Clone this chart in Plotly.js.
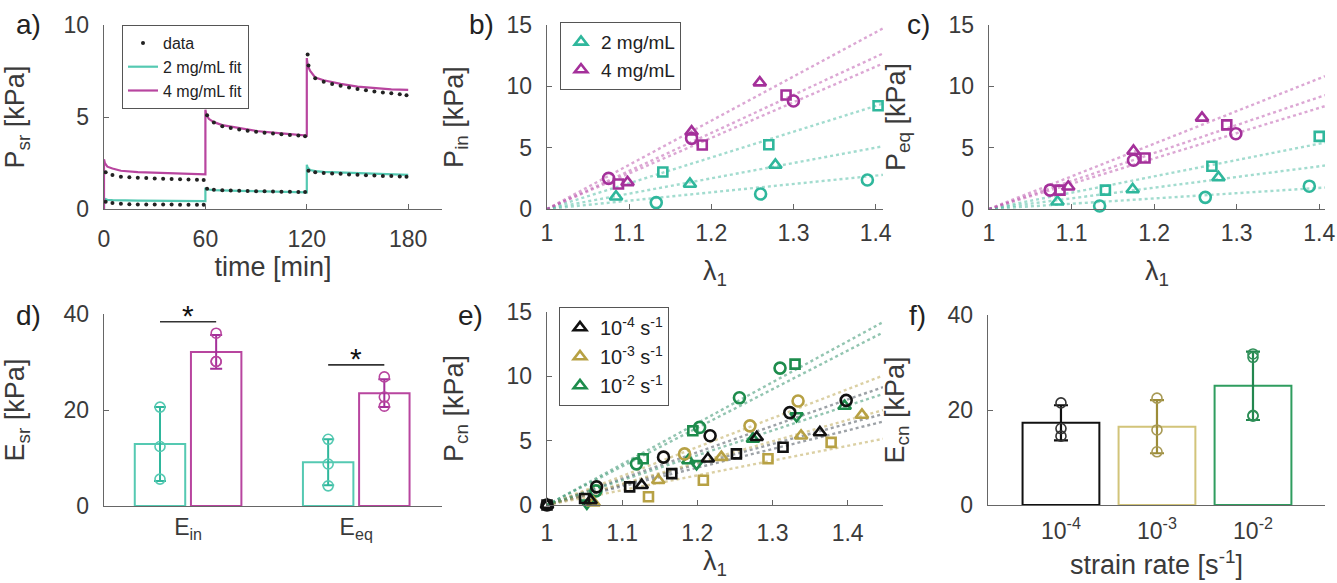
<!DOCTYPE html>
<html><head><meta charset="utf-8">
<script src="https://cdn.plot.ly/plotly-3.0.1.min.js"></script>
<style>html,body{margin:0;padding:0;background:#fff}#chart{width:1337px;height:583px}</style>
</head><body><div id="chart"></div>
<script>
// ---------- DATA ----------
// a) stress relaxation
const dataT4 = [1,5,10,15,20,25,30,35,40,45,50,55,59,61,65,70,75,80,85,90,95,100,105,110,115,119,120.5,121,125,130,135,140,145,150,155,160,165,170,175,179];
const dataP4 = [2.0,1.85,1.75,1.72,1.7,1.68,1.66,1.65,1.63,1.62,1.6,1.59,1.58,5.1,4.7,4.5,4.4,4.32,4.25,4.2,4.15,4.1,4.06,4.02,3.99,3.96,8.4,7.8,7.1,6.92,6.8,6.7,6.6,6.52,6.45,6.38,6.33,6.29,6.23,6.18];
const dataT2 = [1,5,10,15,20,25,30,35,40,45,50,55,59,61,65,70,75,80,85,90,95,100,105,110,115,119,121,125,130,135,140,145,150,155,160,165,170,175,179];
const dataP2 = [0.4,0.32,0.28,0.26,0.25,0.25,0.24,0.24,0.24,0.23,0.23,0.23,0.23,1.1,1.04,1.02,1.0,0.99,0.98,0.97,0.96,0.95,0.94,0.94,0.93,0.92,2.08,2.0,1.96,1.93,1.91,1.88,1.86,1.84,1.82,1.8,1.79,1.77,1.75];
const fitT4 = [0,0,0.5,2,5,10,20,30,40,50,60,60,60.5,62,65,70,80,90,100,110,120,120,120.5,122,125,130,140,150,160,170,180];
const fitP4 = [0,2.7,2.5,2.3,2.2,2.08,2.0,1.96,1.93,1.9,1.88,5.4,5.15,4.9,4.72,4.56,4.38,4.24,4.15,4.06,3.99,8.2,7.8,7.5,7.15,7.0,6.8,6.65,6.56,6.5,6.47];
const fitT2 = [0,0,0.5,2,5,10,20,40,60,60,60.5,62,65,80,100,120,120,120.5,122,125,130,150,180];
const fitP2 = [0,0.6,0.55,0.5,0.48,0.46,0.45,0.44,0.43,1.15,1.1,1.06,1.03,0.99,0.95,0.91,2.4,2.25,2.12,2.06,2.02,1.94,1.85];

// b) instantaneous
const inLam4Tri=[1.098,1.176,1.259], inP4Tri=[2.17,6.3,10.3];
const inLam4Sq=[1.087,1.189,1.291],  inP4Sq=[2.04,5.22,9.29];
const inLam4Ci=[1.075,1.176,1.300],  inP4Ci=[2.5,5.76,8.8];
const inLam2Tri=[1.084,1.174,1.278], inP2Tri=[1.0,2.04,3.59];
const inLam2Sq=[1.141,1.270,1.403],  inP2Sq=[3.02,5.24,8.42];
const inLam2Ci=[1.133,1.260,1.390],  inP2Ci=[0.52,1.22,2.36];
const inSlope4=[36,31,29], inSlope2=[12.5,21,6.8];   // tri, sq, ci

// c) equilibrium
const eqLam4Tri=[1.096,1.175,1.258], eqP4Tri=[1.81,4.73,7.43];
const eqLam4Sq=[1.086,1.189,1.288],  eqP4Sq=[1.54,4.16,6.86];
const eqLam4Ci=[1.074,1.175,1.299],  eqP4Ci=[1.54,3.97,6.14];
const eqLam2Tri=[1.083,1.174,1.278], eqP2Tri=[0.59,1.59,2.57];
const eqLam2Sq=[1.141,1.270,1.400],  eqP2Sq=[1.54,3.49,5.92];
const eqLam2Ci=[1.134,1.262,1.388],  eqP2Ci=[0.24,0.95,1.86];
const eqSlope4=[26.6,22.8,20.6], eqSlope2=[8.7,13.3,4.3];

// d) moduli
const dCats=['E<sub>in</sub>','E<sub>eq</sub>'];
const d2Mean=[12.9,9.1], d2Sd=[7.7,4.8];
const d4Mean=[32.1,23.5], d4Sd=[3.5,2.9];
const d2PtsIn=[20.6,12.4,5.6], d2PtsEq=[13.9,8.75,4.2];
const d4PtsIn=[36.0,30.1,30.1], d4PtsEq=[26.9,22.7,20.8];
const dSigY=[38.4,29.4];

// e) constant strain rate
const cnLamKCi=[1,1.066,1.155,1.217,1.323,1.398], cnPKCi=[0,1.41,3.72,5.38,7.18,8.13];
const cnLamKSq=[1,1.050,1.110,1.166,1.252,1.314], cnPKSq=[0,0.51,1.41,2.44,3.97,4.49];
const cnLamKTri=[1,1.058,1.126,1.214,1.279,1.363], cnPKTri=[0,0.35,1.54,3.59,5.26,5.64];
const cnLamYTri=[1.062,1.148,1.232,1.338,1.419], cnPYTri=[0.18,1.92,3.72,5.38,7.0];
const cnLamYSq=[1.135,1.208,1.294,1.378], cnPYSq=[0.64,1.92,3.59,4.87];
const cnLamYCi=[1.183,1.270,1.334], cnPYCi=[3.97,6.15,8.08];
const cnLamGCi=[1.065,1.119,1.203,1.256,1.310], cnPGCi=[1.1,3.2,6.03,8.33,10.64];
const cnLamGSq=[1.128,1.194,1.330], cnPGSq=[3.59,5.77,10.95];
const cnLamGTri=[1.188,1.274,1.396], cnPGTri=[3.46,5.13,7.69];
const cnLamGTd=[1.053,1.199,1.332], cnPGTd=[0.13,3.2,6.92];
const cnSlopeK=[20.5,14.5,15.8], cnSlopeY=[22.5,11.5,16.5], cnSlopeG=[31.8,30,19.3];

// f) strain-rate moduli
const fCats=['10<sup>-4</sup>','10<sup>-3</sup>','10<sup>-2</sup>'];
const fMean=[17.3,16.5,25.1], fSd=[3.7,5.6,7.2];
const fPtsK=[21.5,16.1,14.5], fPtsY=[22.5,15.8,11.2], fPtsG=[31.8,31.1,18.7,18.9];

// ---------- STYLE ----------
const W=1337,H=583;
const FONT='Liberation Sans, Arial, Helvetica, sans-serif';
const CY='#2fb79c', MG='#a4309a', CYL='#55c9b2', MGL='#b8459f';
const KC='#111111', YC='#b7a144', GC='#1d8c4c';
const px=(a,b)=>[a/W,b/W];
const py=(t,b)=>[1-b/H,1-t/H];

const traces=[];
// a)
traces.push({type:'scatter',mode:'lines',x:fitT2,y:fitP2,xaxis:'x',yaxis:'y',name:'2 mg/mL fit',line:{color:CYL,width:2.2},legend:'legend',legendrank:2});
traces.push({type:'scatter',mode:'lines',x:fitT4,y:fitP4,xaxis:'x',yaxis:'y',name:'4 mg/mL fit',line:{color:MGL,width:2.2},legend:'legend',legendrank:3});
traces.push({type:'scatter',mode:'markers',x:dataT4,y:dataP4,xaxis:'x',yaxis:'y',name:'data',marker:{color:'#222',size:4},legend:'legend',legendrank:1});
traces.push({type:'scatter',mode:'markers',x:dataT2,y:dataP2,xaxis:'x',yaxis:'y',name:'data',marker:{color:'#222',size:4},showlegend:false});

function fitLines(slopes,colors,xa,ya,xEnd){
  slopes.forEach((s,i)=>traces.push({type:'scatter',mode:'lines',x:[1,xEnd],y:[0,s*(xEnd-1)],xaxis:xa,yaxis:ya,
    line:{color:colors[i],width:2.4,dash:'dot'},showlegend:false,hoverinfo:'skip'}));
}
function pts(x,y,sym,col,xa,ya,name,leg,sz){
  traces.push({type:'scatter',mode:'markers',x:x,y:y,xaxis:xa,yaxis:ya,name:name||'',showlegend:!!name,legend:leg,
    cliponaxis:false,marker:{symbol:sym,size:sz||11,color:col,line:{width:2.6,color:col}}});
}
const cyLine='rgba(70,185,160,0.5)', mgLine='rgba(185,80,170,0.5)';
// b)
fitLines(inSlope2,[cyLine,cyLine,cyLine],'x2','y2',1.409);
fitLines(inSlope4,[mgLine,mgLine,mgLine],'x2','y2',1.409);
pts(inLam2Tri,inP2Tri,'triangle-up-open',CY,'x2','y2','2 mg/mL','legend2');
pts(inLam2Sq,inP2Sq,'square-open',CY,'x2','y2',null,'legend2',9);
pts(inLam2Ci,inP2Ci,'circle-open',CY,'x2','y2',null,'legend2');
pts(inLam4Tri,inP4Tri,'triangle-up-open',MG,'x2','y2','4 mg/mL','legend2');
pts(inLam4Sq,inP4Sq,'square-open',MG,'x2','y2',null,'legend2',9);
pts(inLam4Ci,inP4Ci,'circle-open',MG,'x2','y2',null,'legend2');
// c)
fitLines(eqSlope2,[cyLine,cyLine,cyLine],'x3','y3',1.407);
fitLines(eqSlope4,[mgLine,mgLine,mgLine],'x3','y3',1.407);
pts(eqLam2Tri,eqP2Tri,'triangle-up-open',CY,'x3','y3');
pts(eqLam2Sq,eqP2Sq,'square-open',CY,'x3','y3',null,null,9);
pts(eqLam2Ci,eqP2Ci,'circle-open',CY,'x3','y3');
pts(eqLam4Tri,eqP4Tri,'triangle-up-open',MG,'x3','y3');
pts(eqLam4Sq,eqP4Sq,'square-open',MG,'x3','y3',null,null,9);
pts(eqLam4Ci,eqP4Ci,'circle-open',MG,'x3','y3');

// d)
const dX=[0,1], dOff=0.167, dW=0.30;
traces.push({type:'bar',x:dX,y:d2Mean,xaxis:'x4',yaxis:'y4',width:dW,offset:-dOff-dW/2,marker:{color:'rgba(0,0,0,0)',line:{color:CYL,width:2}},
  error_y:{type:'data',array:d2Sd,color:CY,thickness:2,width:6},showlegend:false});
traces.push({type:'bar',x:dX,y:d4Mean,xaxis:'x4',yaxis:'y4',width:dW,offset:dOff-dW/2,marker:{color:'rgba(0,0,0,0)',line:{color:MGL,width:2}},
  error_y:{type:'data',array:d4Sd,color:MG,thickness:2,width:6},showlegend:false});
function dPts(vals,cat,off,col){
  traces.push({type:'scatter',mode:'markers',x:vals.map(()=>cat+off),y:vals,xaxis:'x4',yaxis:'y4',showlegend:false,cliponaxis:false,
    marker:{symbol:'circle-open',size:10,color:col,line:{width:1.6,color:col}}});
}
dPts(d2PtsIn,dX[0],-dOff,CYL); dPts(d2PtsEq,dX[1],-dOff,CYL);
dPts(d4PtsIn,dX[0],dOff,MGL);  dPts(d4PtsEq,dX[1],dOff,MGL);

// e)
const kLine='rgba(60,70,80,0.5)', yLine='rgba(190,170,90,0.55)', gLine='rgba(40,140,100,0.5)';
fitLines(cnSlopeK,[kLine,kLine,kLine],'x5','y5',1.447);
fitLines(cnSlopeY,[yLine,yLine,yLine],'x5','y5',1.447);
fitLines(cnSlopeG,[gLine,gLine,gLine],'x5','y5',1.447);
pts(cnLamGTri,cnPGTri,'triangle-up-open',GC,'x5','y5','10<sup>-2</sup> s<sup>-1</sup>','legend3');
pts(cnLamGTd,cnPGTd,'triangle-down-open',GC,'x5','y5');
pts(cnLamGSq,cnPGSq,'square-open',GC,'x5','y5',null,null,9);
pts(cnLamGCi,cnPGCi,'circle-open',GC,'x5','y5');
pts(cnLamYTri,cnPYTri,'triangle-up-open',YC,'x5','y5','10<sup>-3</sup> s<sup>-1</sup>','legend3');
pts(cnLamYSq,cnPYSq,'square-open',YC,'x5','y5',null,null,9);
pts(cnLamYCi,cnPYCi,'circle-open',YC,'x5','y5');
pts(cnLamKTri,cnPKTri,'triangle-up-open',KC,'x5','y5','10<sup>-4</sup> s<sup>-1</sup>','legend3');
pts(cnLamKSq,cnPKSq,'square-open',KC,'x5','y5',null,null,9);
pts(cnLamKCi,cnPKCi,'circle-open',KC,'x5','y5');
traces.filter(t=>t.legend==='legend3'&&t.showlegend).forEach(t=>{
  t.legendrank = t.marker.color===KC?1:(t.marker.color===YC?2:3);
});

// f)
const fX=[0,1,2];
const fBarCol=[KC,'#d2c47a','#2f9d5f'], fErrCol=[KC,'#9c8c38','#23874f'], fPtCol=['#333','#a89a55','#2f8f58'];
[fPtsK,fPtsY,fPtsG].forEach((p,i)=>{
  traces.push({type:'bar',x:[fX[i]],y:[fMean[i]],xaxis:'x6',yaxis:'y6',width:0.8,marker:{color:'rgba(0,0,0,0)',line:{color:fBarCol[i],width:2}},
    error_y:{type:'data',array:[fSd[i]],color:fErrCol[i],thickness:2.2,width:7},showlegend:false});
  traces.push({type:'scatter',mode:'markers',x:p.map(()=>fX[i]),y:p,xaxis:'x6',yaxis:'y6',showlegend:false,cliponaxis:false,
    marker:{symbol:'circle-open',size:10,color:fPtCol[i],line:{width:1.6,color:fPtCol[i]}}});
});

// ---------- LAYOUT ----------
const tickF={family:FONT,size:23,color:'#3a3a3a'};
const titF={family:FONT,size:27,color:'#3a3a3a'};
function ax(o){return Object.assign({showline:true,linecolor:'#666',linewidth:1.3,ticks:'inside',ticklen:5,tickcolor:'#666',
  tickfont:tickF,showgrid:false,zeroline:false,fixedrange:true},o);}
function yax(o){return ax(Object.assign({ticklabelstandoff:9},o));}
const lamTicks=[1,1.1,1.2,1.3,1.4], lamText=['1','1.1','1.2','1.3','1.4'];
const yTitle=(t)=>({text:t,font:titF,standoff:35});
const legBase={xanchor:'left',yanchor:'top',bgcolor:'#fff',bordercolor:'#555',borderwidth:1,itemwidth:30,tracegroupgap:0};
const layout={
  width:W,height:H,margin:{l:0,r:0,t:0,b:0},paper_bgcolor:'#fff',plot_bgcolor:'rgba(0,0,0,0)',
  font:{family:FONT,color:'#333'},barmode:'overlay',
  xaxis: ax({domain:px(104,442),anchor:'y',range:[0,200],tickvals:[0,60,120,180],ticklabelstandoff:9,title:{text:'time [min]',font:titF,standoff:6}}),
  yaxis: yax({domain:py(25,209),anchor:'x',range:[0,10],tickvals:[0,5,10],title:yTitle('P<sub>sr</sub> [kPa]')}),
  xaxis2:ax({domain:px(547,883),anchor:'y2',range:[1,1.409],tickvals:lamTicks,ticktext:lamText,ticklabelstandoff:3,title:{text:'λ<sub>1</sub>',font:titF,standoff:16}}),
  yaxis2:yax({domain:py(25,209),anchor:'x2',range:[0,15],tickvals:[0,5,10,15],title:yTitle('P<sub>in</sub> [kPa]')}),
  xaxis3:ax({domain:px(989,1325),anchor:'y3',range:[1,1.407],tickvals:lamTicks,ticktext:lamText,ticklabelstandoff:3,title:{text:'λ<sub>1</sub>',font:titF,standoff:16}}),
  yaxis3:yax({domain:py(25,209),anchor:'x3',range:[0,15],tickvals:[0,5,10,15],title:yTitle('P<sub>eq</sub> [kPa]')}),
  xaxis4:ax({domain:px(104,442),anchor:'y4',range:[-0.5,1.51],tickvals:dX,ticktext:dCats,ticks:''}),
  yaxis4:yax({domain:py(314,506),anchor:'x4',range:[0,40],tickvals:[0,20,40],title:yTitle('E<sub>sr</sub> [kPa]')}),
  xaxis5:ax({domain:px(547,883),anchor:'y5',range:[1,1.447],tickvals:lamTicks,ticktext:lamText,ticklabelstandoff:7,title:{text:'λ<sub>1</sub>',font:titF,standoff:4}}),
  yaxis5:yax({domain:py(312,505),anchor:'x5',range:[0,15],tickvals:[0,5,10,15],title:yTitle('P<sub>cn</sub> [kPa]')}),
  xaxis6:ax({domain:px(988,1325),anchor:'y6',range:[-0.76,2.75],tickvals:fX,ticktext:fCats,ticks:'',ticklabelstandoff:5,title:{text:'strain rate [s<sup>-1</sup>]',font:titF,standoff:12}}),
  yaxis6:yax({domain:py(315,505),anchor:'x6',range:[0,40],tickvals:[0,20,40],title:yTitle('E<sub>cn</sub> [kPa]')}),
  legend: Object.assign({x:122/W,y:1-25/H,font:{family:FONT,size:16,color:'#222'}},legBase),
  legend2:Object.assign({x:560/W,y:1-22/H,font:{family:FONT,size:19,color:'#222'}},legBase),
  legend3:Object.assign({x:559/W,y:1-307/H,font:{family:FONT,size:20,color:'#222'}},legBase),
  shapes:[
    {type:'line',xref:'x4',yref:'y4',x0:dX[0]-dOff,x1:dX[0]+dOff,y0:dSigY[0],y1:dSigY[0],line:{color:'#333',width:1.6}},
    {type:'line',xref:'x4',yref:'y4',x0:dX[1]-dOff,x1:dX[1]+dOff,y0:dSigY[1],y1:dSigY[1],line:{color:'#333',width:1.6}}
  ],
  annotations:[
    {text:'*',xref:'x4',yref:'y4',x:dX[0],y:dSigY[0],yanchor:'bottom',showarrow:false,font:{family:FONT,size:30,color:'#111'},yshift:-12},
    {text:'*',xref:'x4',yref:'y4',x:dX[1],y:dSigY[1],yanchor:'bottom',showarrow:false,font:{family:FONT,size:30,color:'#111'},yshift:-12},
    ...[['a)',28,24],['b)',481,24],['c)',918,24],['d)',28,315],['e)',470,315],['f)',917,315]].map(([t,x,y])=>(
      {text:t,xref:'paper',yref:'paper',x:x/W,y:1-y/H,xanchor:'center',yanchor:'middle',showarrow:false,font:{family:FONT,size:28,color:'#222'}}))
  ]
};
Plotly.newPlot('chart',traces,layout,{staticPlot:true,displayModeBar:false});
</script></body></html>
